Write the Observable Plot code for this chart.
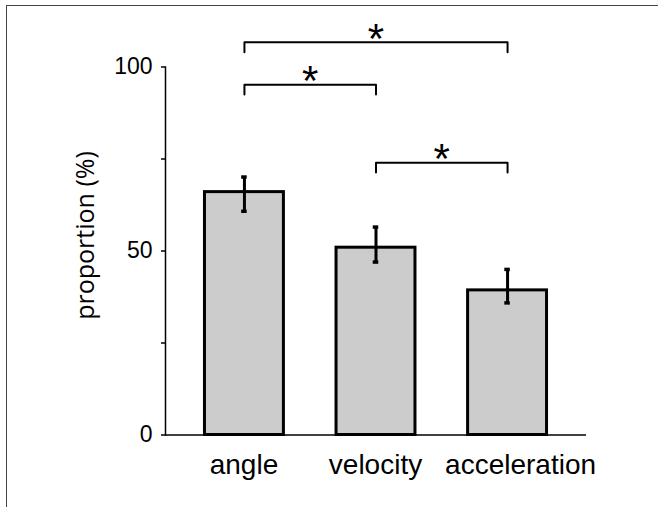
<!DOCTYPE html>
<html><head><meta charset="utf-8">
<script src="https://cdn.jsdelivr.net/npm/d3@7"></script>
<script src="https://cdn.jsdelivr.net/npm/@observablehq/plot@0.6"></script>
<style>
body{margin:0;background:#fff;}
#wrap{position:relative;width:658px;height:507px;overflow:hidden;}
#wrap svg{position:absolute;left:0;top:0;}
#border{position:absolute;left:6px;top:5px;width:700px;height:600px;border-top:1.5px solid #444;border-left:1.5px solid #444;pointer-events:none;}
</style></head><body><div id="wrap"></div>
<script>
// categories and values
const categories = ["angle", "velocity", "acceleration"];
const proportion = [66.0, 50.9, 39.3];
const errLow = [60.8, 47.0, 35.9];
const errHigh = [70.1, 56.5, 45.0];
// y axis ticks
const yTicks = [0, 25, 50, 75, 100];
const yTickLabels = ["0", "", "50", "", "100"];
// significance brackets
const bracketFrom = ["angle", "angle", "velocity"];
const bracketTo = ["acceleration", "velocity", "acceleration"];
const bracketLevel = [106.7, 95.2, 74.0];
const bracketDrop = 2.7;
const bracketMark = ["*", "*", "*"];
const yLabel = "proportion (%)";

const half = 0.3; // half bar width (in category units)
const bars = categories.map((c, i) => ({i, c, v: proportion[i], lo: errLow[i], hi: errHigh[i]}));
const brackets = bracketFrom.map((f, b) => {
  const fi = categories.indexOf(f), ti = categories.indexOf(bracketTo[b]);
  return {b, fi, ti, mid: (fi + ti) / 2, level: bracketLevel[b], mark: bracketMark[b]};
});
const bracketPts = brackets.flatMap(d => [
  {b: d.b, x: d.fi, y: d.level - bracketDrop},
  {b: d.b, x: d.fi, y: d.level},
  {b: d.b, x: d.ti, y: d.level},
  {b: d.b, x: d.ti, y: d.level - bracketDrop}
]);
const caps = bars.flatMap(d => [{i: d.i, y: d.lo}, {i: d.i, y: d.hi}]);
const xLabelOpts = {tickFormat: i => categories[i], tickSize: 0, tickPadding: 19, fontSize: 28, label: null};

const plot = Plot.plot({
  width: 658,
  height: 507,
  marginLeft: 165,
  marginRight: 72,
  marginTop: 66.5,
  marginBottom: 72.5,
  style: {fontFamily: "'Liberation Sans', Arial, sans-serif", color: "black", background: "transparent"},
  x: {domain: [-0.6, 2.6]},
  y: {domain: [0, 100]},
  marks: [
    Plot.rectY(bars, {x1: d => d.i - half, x2: d => d.i + half, y: "v", fill: "#cccccc", stroke: "black", strokeWidth: 3}),
    Plot.ruleX(bars, {x: "i", y1: "lo", y2: "hi", stroke: "black", strokeWidth: 3}),
    Plot.ruleY(caps, {y: "y", x1: d => d.i - 0.021, x2: d => d.i + 0.021, stroke: "black", strokeWidth: 3.5}),
    Plot.ruleY([0], {stroke: "black", strokeWidth: 1.5}),
    Plot.frame({anchor: "left", stroke: "black", strokeWidth: 1.5}),
    Plot.axisY({ticks: yTicks, tickFormat: d => yTickLabels[yTicks.indexOf(d)], tickSize: 4, tickPadding: 9, fontSize: 23, strokeWidth: 1.5, label: null}),
    Plot.axisX({...xLabelOpts, ticks: [0, 1], dx: -0.5}),
    Plot.axisX({...xLabelOpts, ticks: [2], dx: 13}),
    Plot.line(bracketPts, {x: "x", y: "y", z: "b", stroke: "black", strokeWidth: 2}),
    Plot.text(brackets, {x: "mid", y: "level", text: "mark", fontSize: 42, dy: -3}),
    Plot.text([yLabel], {frameAnchor: "left", textAnchor: "middle", lineAnchor: "middle", rotate: -90, dx: -79.5, dy: -15.5, fontSize: 25, fontFamily: "'Open Sans', sans-serif"})
  ]
});
const wrap = document.getElementById("wrap");
wrap.appendChild(plot);
const border = document.createElement("div");
border.id = "border";
wrap.appendChild(border);
</script>
</body></html>
